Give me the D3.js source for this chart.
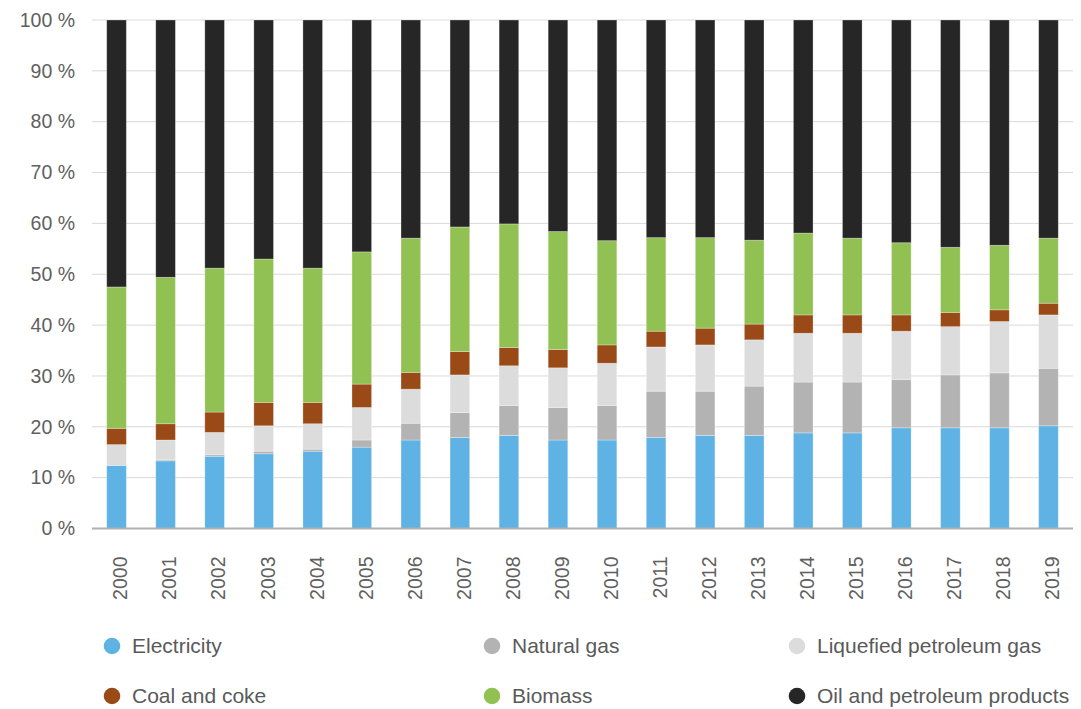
<!DOCTYPE html>
<html>
<head>
<meta charset="utf-8">
<script src="https://cdn.jsdelivr.net/npm/d3@7"></script>
<style>
  html, body { margin: 0; padding: 0; background: #fff; }
  svg { display: block; font-family: "Liberation Sans", Arial, Helvetica, sans-serif; }
</style>
</head>
<body>
<svg id="chart" width="1081" height="709"></svg>
<script>
// Household energy mix by source, share of total (%)
const years = ["2000","2001","2002","2003","2004","2005","2006","2007","2008","2009",
               "2010","2011","2012","2013","2014","2015","2016","2017","2018","2019"];

const electricity = [12.4,13.3,14.2,14.7,15.2,16.0,17.4,17.9,18.3,17.4,17.4,17.9,18.3,18.3,18.8,18.8,19.8,19.8,19.8,20.2];
const naturalGas  = [0.0, 0.2, 0.3, 0.5, 0.4, 1.4, 3.3, 4.9, 5.9, 6.4, 6.8, 9.1, 8.7, 9.7,10.0,10.0, 9.5,10.4,10.8,11.3];
const lpg         = [4.1, 3.9, 4.4, 5.0, 5.0, 6.4, 6.7, 7.4, 7.8, 7.8, 8.3, 8.7, 9.1, 9.1, 9.6, 9.6, 9.5, 9.5,10.1,10.5];
const coalCoke    = [3.2, 3.2, 4.0, 4.6, 4.2, 4.6, 3.3, 4.6, 3.6, 3.6, 3.6, 3.1, 3.3, 3.1, 3.6, 3.6, 3.2, 2.8, 2.3, 2.3];
const biomass     = [27.8,28.8,28.3,28.2,26.4,26.0,26.4,24.5,24.3,23.2,20.5,18.4,17.8,16.5,16.1,15.1,14.2,12.8,12.7,12.8];
const oilProducts = [52.5,50.6,48.8,47.0,48.8,45.6,42.9,40.7,40.1,41.6,43.4,42.8,42.8,43.3,41.9,42.9,43.8,44.7,44.3,42.9];

const seriesNames = ["Electricity","Natural gas","Liquefied petroleum gas","Coal and coke","Biomass","Oil and petroleum products"];
const seriesColors = ["#5eb3e4","#b3b3b3","#dcdcdc","#9a4a16","#92c153","#262626"];
const yTicks = [0,10,20,30,40,50,60,70,80,90,100];

const seriesValues = [electricity, naturalGas, lpg, coalCoke, biomass, oilProducts];
const rows = years.map((yr, i) => {
  const r = { year: yr };
  seriesNames.forEach((n, k) => { r[n] = seriesValues[k][i]; });
  return r;
});

const svg = d3.select("#chart");
const plotLeft = 92, plotRight = 1073, plotTop = 20, plotBottom = 528.5;

const x = d3.scaleBand().domain(years).range([plotLeft, plotRight]).paddingInner(0.6).paddingOuter(0.3);
const y = d3.scaleLinear().domain([0, 100]).range([plotBottom, plotTop]);

// gridlines
svg.append("g")
  .selectAll("line")
  .data(yTicks.filter(t => t > 0))
  .join("line")
  .attr("x1", plotLeft).attr("x2", plotRight)
  .attr("y1", d => y(d)).attr("y2", d => y(d))
  .attr("stroke", "#d9d9d9").attr("stroke-width", 1);

// y tick labels
const yAxis = d3.axisLeft(y).tickValues(yTicks).tickFormat(d => d + " %").tickSize(0).tickPadding(0);
const ya = svg.append("g").attr("transform", `translate(${plotLeft - 17},0)`).call(yAxis);
ya.select(".domain").remove();
ya.selectAll("text")
  .attr("font-size", 19.5)
  .attr("fill", "#606060")
  .attr("font-family", "Liberation Sans, Arial, sans-serif");

// stacked bars
const stack = d3.stack().keys(seriesNames)(rows);
svg.append("g")
  .selectAll("g")
  .data(stack)
  .join("g")
  .attr("fill", (d, i) => seriesColors[i])
  .selectAll("rect")
  .data(d => d)
  .join("rect")
  .attr("x", d => x(d.data.year))
  .attr("width", x.bandwidth())
  .attr("y", d => y(d[1]))
  .attr("height", d => Math.max(0, y(d[0]) - y(d[1])))
  .attr("stroke", "#ffffff")
  .attr("stroke-opacity", 0.35)
  .attr("stroke-width", 0.8);

// baseline
svg.append("line")
  .attr("x1", plotLeft).attr("x2", plotRight)
  .attr("y1", plotBottom).attr("y2", plotBottom)
  .attr("stroke", "#b0b0b0").attr("stroke-width", 2);

// year labels, rotated
const xAxis = d3.axisBottom(x).tickSize(0).tickPadding(0);
const xa = svg.append("g").attr("transform", `translate(0,${plotBottom})`).call(xAxis);
xa.select(".domain").remove();
xa.selectAll("text")
  .attr("font-size", 19.5)
  .attr("fill", "#606060")
  .attr("text-anchor", "end")
  .attr("transform", "rotate(-90)")
  .attr("x", -28)
  .attr("y", 4)
  .attr("dy", "0.35em")
  .attr("font-family", "Liberation Sans, Arial, sans-serif");

// legend
const legendPos = [[112, 646], [492, 646], [797, 646], [112, 696], [492, 696], [797, 696]];
const legend = svg.append("g")
  .selectAll("g")
  .data(seriesNames)
  .join("g")
  .attr("transform", (d, i) => `translate(${legendPos[i][0]},${legendPos[i][1]})`);
legend.append("circle").attr("r", 8.3).attr("fill", (d, i) => seriesColors[i]);
legend.append("text")
  .attr("x", 20).attr("dy", "0.35em")
  .attr("font-size", 21)
  .attr("fill", "#5a5a5a")
  .text(d => d);
</script>
</body>
</html>
